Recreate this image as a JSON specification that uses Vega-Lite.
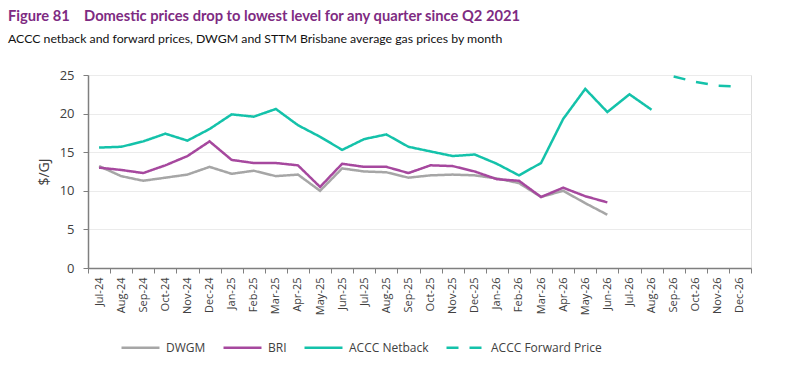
{
  "$schema": "https://vega.github.io/schema/vega-lite/v6.json",
  "width": 663,
  "height": 193,
  "autosize": {"type": "none"},
  "padding": {"left": 88, "top": 75, "right": 44, "bottom": 100},
  "background": "white",
  "title": {
    "text": "Figure 81\u00a0\u00a0\u00a0\u00a0Domestic prices drop to lowest level for any quarter since Q2 2021",
    "subtitle": "ACCC netback and forward prices, DWGM and STTM Brisbane average gas prices by month",
    "anchor": "start",
    "frame": "group",
    "dx": -80,
    "offset": 24,
    "font": "Lato",
    "fontSize": 14.7,
    "fontWeight": "bold",
    "color": "#7E2B82",
    "subtitleFont": "Lato",
    "subtitleFontSize": 12.3,
    "subtitleColor": "#111111",
    "subtitlePadding": 9
  },
  "data": {
    "values": [
      {"month": "Jul-24", "series": "DWGM", "value": 13.2},
      {"month": "Aug-24", "series": "DWGM", "value": 11.9},
      {"month": "Sep-24", "series": "DWGM", "value": 11.3},
      {"month": "Oct-24", "series": "DWGM", "value": 11.7},
      {"month": "Nov-24", "series": "DWGM", "value": 12.1},
      {"month": "Dec-24", "series": "DWGM", "value": 13.1},
      {"month": "Jan-25", "series": "DWGM", "value": 12.2},
      {"month": "Feb-25", "series": "DWGM", "value": 12.6},
      {"month": "Mar-25", "series": "DWGM", "value": 11.9},
      {"month": "Apr-25", "series": "DWGM", "value": 12.1},
      {"month": "May-25", "series": "DWGM", "value": 10.0},
      {"month": "Jun-25", "series": "DWGM", "value": 12.9},
      {"month": "Jul-25", "series": "DWGM", "value": 12.5},
      {"month": "Aug-25", "series": "DWGM", "value": 12.4},
      {"month": "Sep-25", "series": "DWGM", "value": 11.7},
      {"month": "Oct-25", "series": "DWGM", "value": 12.0},
      {"month": "Nov-25", "series": "DWGM", "value": 12.1},
      {"month": "Dec-25", "series": "DWGM", "value": 12.0},
      {"month": "Jan-26", "series": "DWGM", "value": 11.6},
      {"month": "Feb-26", "series": "DWGM", "value": 11.0},
      {"month": "Mar-26", "series": "DWGM", "value": 9.2},
      {"month": "Apr-26", "series": "DWGM", "value": 10.0},
      {"month": "May-26", "series": "DWGM", "value": 8.4},
      {"month": "Jun-26", "series": "DWGM", "value": 6.9},

      {"month": "Jul-24", "series": "BRI", "value": 13.0},
      {"month": "Aug-24", "series": "BRI", "value": 12.7},
      {"month": "Sep-24", "series": "BRI", "value": 12.3},
      {"month": "Oct-24", "series": "BRI", "value": 13.3},
      {"month": "Nov-24", "series": "BRI", "value": 14.5},
      {"month": "Dec-24", "series": "BRI", "value": 16.4},
      {"month": "Jan-25", "series": "BRI", "value": 14.0},
      {"month": "Feb-25", "series": "BRI", "value": 13.6},
      {"month": "Mar-25", "series": "BRI", "value": 13.6},
      {"month": "Apr-25", "series": "BRI", "value": 13.3},
      {"month": "May-25", "series": "BRI", "value": 10.5},
      {"month": "Jun-25", "series": "BRI", "value": 13.5},
      {"month": "Jul-25", "series": "BRI", "value": 13.1},
      {"month": "Aug-25", "series": "BRI", "value": 13.1},
      {"month": "Sep-25", "series": "BRI", "value": 12.3},
      {"month": "Oct-25", "series": "BRI", "value": 13.3},
      {"month": "Nov-25", "series": "BRI", "value": 13.2},
      {"month": "Dec-25", "series": "BRI", "value": 12.5},
      {"month": "Jan-26", "series": "BRI", "value": 11.5},
      {"month": "Feb-26", "series": "BRI", "value": 11.3},
      {"month": "Mar-26", "series": "BRI", "value": 9.2},
      {"month": "Apr-26", "series": "BRI", "value": 10.4},
      {"month": "May-26", "series": "BRI", "value": 9.3},
      {"month": "Jun-26", "series": "BRI", "value": 8.5},

      {"month": "Jul-24", "series": "ACCC Netback", "value": 15.6},
      {"month": "Aug-24", "series": "ACCC Netback", "value": 15.7},
      {"month": "Sep-24", "series": "ACCC Netback", "value": 16.4},
      {"month": "Oct-24", "series": "ACCC Netback", "value": 17.4},
      {"month": "Nov-24", "series": "ACCC Netback", "value": 16.5},
      {"month": "Dec-24", "series": "ACCC Netback", "value": 18.0},
      {"month": "Jan-25", "series": "ACCC Netback", "value": 19.9},
      {"month": "Feb-25", "series": "ACCC Netback", "value": 19.6},
      {"month": "Mar-25", "series": "ACCC Netback", "value": 20.6},
      {"month": "Apr-25", "series": "ACCC Netback", "value": 18.5},
      {"month": "May-25", "series": "ACCC Netback", "value": 17.0},
      {"month": "Jun-25", "series": "ACCC Netback", "value": 15.3},
      {"month": "Jul-25", "series": "ACCC Netback", "value": 16.7},
      {"month": "Aug-25", "series": "ACCC Netback", "value": 17.3},
      {"month": "Sep-25", "series": "ACCC Netback", "value": 15.7},
      {"month": "Oct-25", "series": "ACCC Netback", "value": 15.1},
      {"month": "Nov-25", "series": "ACCC Netback", "value": 14.5},
      {"month": "Dec-25", "series": "ACCC Netback", "value": 14.7},
      {"month": "Jan-26", "series": "ACCC Netback", "value": 13.5},
      {"month": "Feb-26", "series": "ACCC Netback", "value": 12.0},
      {"month": "Mar-26", "series": "ACCC Netback", "value": 13.6},
      {"month": "Apr-26", "series": "ACCC Netback", "value": 19.3},
      {"month": "May-26", "series": "ACCC Netback", "value": 23.2},
      {"month": "Jun-26", "series": "ACCC Netback", "value": 20.2},
      {"month": "Jul-26", "series": "ACCC Netback", "value": 22.5},
      {"month": "Aug-26", "series": "ACCC Netback", "value": 20.5},

      {"month": "Sep-26", "series": "ACCC Forward Price", "value": 24.8},
      {"month": "Oct-26", "series": "ACCC Forward Price", "value": 24.1},
      {"month": "Nov-26", "series": "ACCC Forward Price", "value": 23.6},
      {"month": "Dec-26", "series": "ACCC Forward Price", "value": 23.5}
    ]
  },
  "mark": {"type": "line", "strokeCap": "butt", "strokeJoin": "miter"},
  "encoding": {
    "x": {
      "field": "month",
      "type": "nominal",
      "sort": null,
      "bandPosition": 0.5,
      "scale": {
        "type": "band",
        "paddingInner": 0,
        "paddingOuter": 0,
        "domain": ["Jul-24","Aug-24","Sep-24","Oct-24","Nov-24","Dec-24","Jan-25","Feb-25","Mar-25","Apr-25","May-25","Jun-25","Jul-25","Aug-25","Sep-25","Oct-25","Nov-25","Dec-25","Jan-26","Feb-26","Mar-26","Apr-26","May-26","Jun-26","Jul-26","Aug-26","Sep-26","Oct-26","Nov-26","Dec-26"]
      },
      "axis": {
        "title": null,
        "labelAngle": -90,
        "labelAlign": "right",
        "labelBaseline": "middle",
        "tickBand": "extent",
        "tickSize": 5,
        "tickColor": "#7F7F7F",
        "domainColor": "#7F7F7F",
        "domainWidth": 1.5,
        "labelFont": "Open Sans",
        "labelFontSize": 11,
        "labelColor": "#404040",
        "labelPadding": 4,
        "grid": false
      }
    },
    "y": {
      "field": "value",
      "type": "quantitative",
      "scale": {"domain": [0, 25], "nice": false, "zero": true},
      "axis": {
        "title": "$/GJ",
        "titleFont": "Open Sans",
        "titleFontSize": 14,
        "titleFontWeight": "normal",
        "titleColor": "#404040",
        "titlePadding": 8,
        "values": [0, 5, 10, 15, 20, 25],
        "labelFont": "Open Sans",
        "labelFontSize": 13,
        "labelColor": "#404040",
        "labelPadding": 9,
        "tickSize": 5,
        "tickColor": "#7F7F7F",
        "domainColor": "#7F7F7F",
        "domainWidth": 1.5,
        "grid": true,
        "gridColor": "#EBEBEB",
        "gridWidth": 1.2
      }
    },
    "color": {
      "field": "series",
      "type": "nominal",
      "scale": {
        "domain": ["DWGM", "BRI", "ACCC Netback", "ACCC Forward Price"],
        "range": ["#A6A6A6", "#A6489E", "#14C2AA", "#14C2AA"]
      },
      "legend": {
        "title": null,
        "orient": "none",
        "legendX": 32,
        "legendY": 252,
        "direction": "horizontal",
        "columns": 4,
        "columnPadding": 12,
        "symbolType": "stroke",
        "symbolSize": 1444,
        "symbolStrokeWidth": 3,
        "labelFont": "Open Sans",
        "labelFontSize": 12,
        "labelColor": "#404040",
        "labelOffset": 5
      }
    },
    "strokeDash": {
      "field": "series",
      "type": "nominal",
      "scale": {
        "domain": ["DWGM", "BRI", "ACCC Netback", "ACCC Forward Price"],
        "range": [[1, 0], [1, 0], [1, 0], [12, 11]]
      },
      "legend": null
    },
    "strokeWidth": {
      "field": "series",
      "type": "nominal",
      "scale": {
        "domain": ["DWGM", "BRI", "ACCC Netback", "ACCC Forward Price"],
        "range": [2.5, 2.5, 2.5, 4]
      },
      "legend": null
    }
  }
}
